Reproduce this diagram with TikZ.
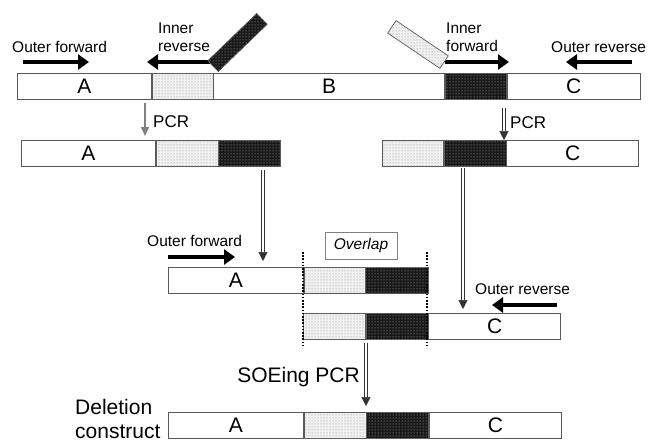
\documentclass[tikz,border=0pt]{standalone}
\usepackage{fontspec}
\setmainfont{Liberation Sans}
\usetikzlibrary{arrows.meta,patterns}

\begin{document}
\begin{tikzpicture}[x=1pt, y=-1pt,
  seg/.style={draw=black!65, line width=0.7pt, inner sep=0pt, minimum height=26pt, anchor=north west, font=\fontsize{21}{21}\selectfont},
  lite/.style={seg, fill=gray!12, postaction={pattern=dots, pattern color=gray!90}},
  dark/.style={seg, fill=black!90, postaction={pattern=dots, pattern color=gray!55}},
  lbl/.style={inner sep=0pt, font=\fontsize{15.5}{17.5}\selectfont, align=left},
  primer/.style={line width=4.5pt, -{Triangle[length=11pt, width=15pt]}},
  dbl/.style={double, draw=black!80, double distance=2.2pt, line width=0.7pt, -{Triangle[length=9pt, width=9pt]}},
  tilt/.style={draw=black!65, line width=0.7pt, inner sep=0pt, minimum height=15pt}]
  \useasboundingbox (0,0) rectangle (649,442);
  % template
  \node[seg, minimum width=134pt] (a1) at (17,73) {A};
  \node[lite, minimum width=61pt] (l1) at (a1.north east) {};
  \node[seg, minimum width=231pt] (b1) at (l1.north east) {B};
  \node[dark, minimum width=61pt] (d1) at (b1.north east) {};
  \node[seg, minimum width=133pt] (c1) at (d1.north east) {C};
  % primers
  \node[lbl, anchor=base west] (of1) at (12,52.5) {Outer forward};
  \node[lbl, anchor=north west] (ir) at (158,23) {Inner\\reverse};
  \node[lbl, anchor=north west] (if) at (446,23) {Inner\\forward};
  \node[lbl, anchor=base west] (or1) at (551,52.5) {Outer reverse};
  \coordinate (of1s) at (23,62);  \coordinate (of1e) at (89,62);
  \coordinate (irs) at (213,62);  \coordinate (ire) at (147,62);
  \coordinate (ifs) at (445,62);  \coordinate (ife) at (509,62);
  \coordinate (or1s) at (632,62); \coordinate (or1e) at (566,62);
  \draw[primer] (of1s) -- (of1e);
  \draw[primer] (irs) -- (ire);
  \draw[primer] (ifs) -- (ife);
  \draw[primer] (or1s) -- (or1e);
  \node[tilt, rotate=44, minimum width=68pt, fill=black!90, postaction={pattern=dots, pattern color=gray!55}] (t1) at (237.5,42.5) {};
  \node[tilt, rotate=-34, minimum width=63pt, fill=gray!12, postaction={pattern=dots, pattern color=gray!90}] (t2) at (418,44.5) {};
  % first PCR products
  \node[seg, minimum width=134pt] (a2) at (21,140) {A};
  \node[lite, minimum width=62pt] (l2) at (a2.north east) {};
  \node[dark, minimum width=62pt] (d2) at (l2.north east) {};
  \node[lite, minimum width=61pt] (l3) at (382,140) {};
  \node[dark, minimum width=62pt] (d3) at (l3.north east) {};
  \node[seg, minimum width=132pt] (c3) at (d3.north east) {C};
  \coordinate (p1s) at (145,103); \coordinate (p1e) at (145,136);
  \coordinate (p2s) at (504,108); \coordinate (p2e) at (504,140);
  \draw[gray, line width=1.5pt, -{Triangle[length=9pt, width=8pt]}] (p1s) -- (p1e);
  \draw[dbl] (p2s) -- (p2e);
  \node[lbl, anchor=west, font=\fontsize{17}{17}\selectfont] (pcr1) at (153,122) {PCR};
  \node[lbl, anchor=west, font=\fontsize{17}{17}\selectfont] (pcr2) at (510,123) {PCR};
  % overlapping fragments
  \node[seg, minimum width=135pt] (a4) at (168,267) {A};
  \node[lite, minimum width=61pt] (l4) at (a4.north east) {};
  \node[dark, minimum width=63pt] (d4) at (l4.north east) {};
  \node[lite, minimum width=62pt] (l5) at (303,313) {};
  \node[dark, minimum width=62pt] (d5) at (l5.north east) {};
  \node[seg, minimum width=132pt] (c5) at (d5.north east) {C};
  \coordinate (q1s) at (263,170); \coordinate (q1e) at (263,261);
  \coordinate (q2s) at (463,168); \coordinate (q2e) at (463,309);
  \draw[dbl] (q1s) -- (q1e);
  \draw[dbl] (q2s) -- (q2e);
  \node[lbl, anchor=base west] (of2) at (147,246.5) {Outer forward};
  \node[lbl, anchor=base west] (or2) at (475,294.5) {Outer reverse};
  \coordinate (of2s) at (168,257); \coordinate (of2e) at (235,257);
  \coordinate (or2s) at (557,305); \coordinate (or2e) at (492,305);
  \draw[primer] (of2s) -- (of2e);
  \draw[primer] (or2s) -- (or2e);
  \node[draw=gray, line width=0.6pt, minimum width=72pt, minimum height=27pt, font=\itshape\fontsize{15.5}{17}\selectfont] (ov) at (361,245.5) {Overlap};
  \foreach \x in {303, 427} {
    \coordinate (v1) at (\x,252); \coordinate (v2) at (\x,348);
    \draw[line width=1.6pt, dash pattern=on 1.6pt off 1.6pt] (v1) -- (v2);
  }
  % SOEing product
  \coordinate (s1) at (366,343); \coordinate (s2) at (366,406);
  \draw[dbl] (s1) -- (s2);
  \node[inner sep=0pt, anchor=base east, font=\fontsize{21}{21}\selectfont] (soe) at (360,382.5) {SOEing PCR};
  \node[seg, minimum width=135pt] (a6) at (168,412) {A};
  \node[lite, minimum width=62pt] (l6) at (a6.north east) {};
  \node[dark, minimum width=62pt] (d6) at (l6.north east) {};
  \node[seg, minimum width=132pt] (c6) at (d6.north east) {C};
  \node[inner sep=0pt, anchor=north west, align=left, font=\fontsize{21}{24}\selectfont] (del) at (75,399) {Deletion\\construct};
\end{tikzpicture}
\end{document}
